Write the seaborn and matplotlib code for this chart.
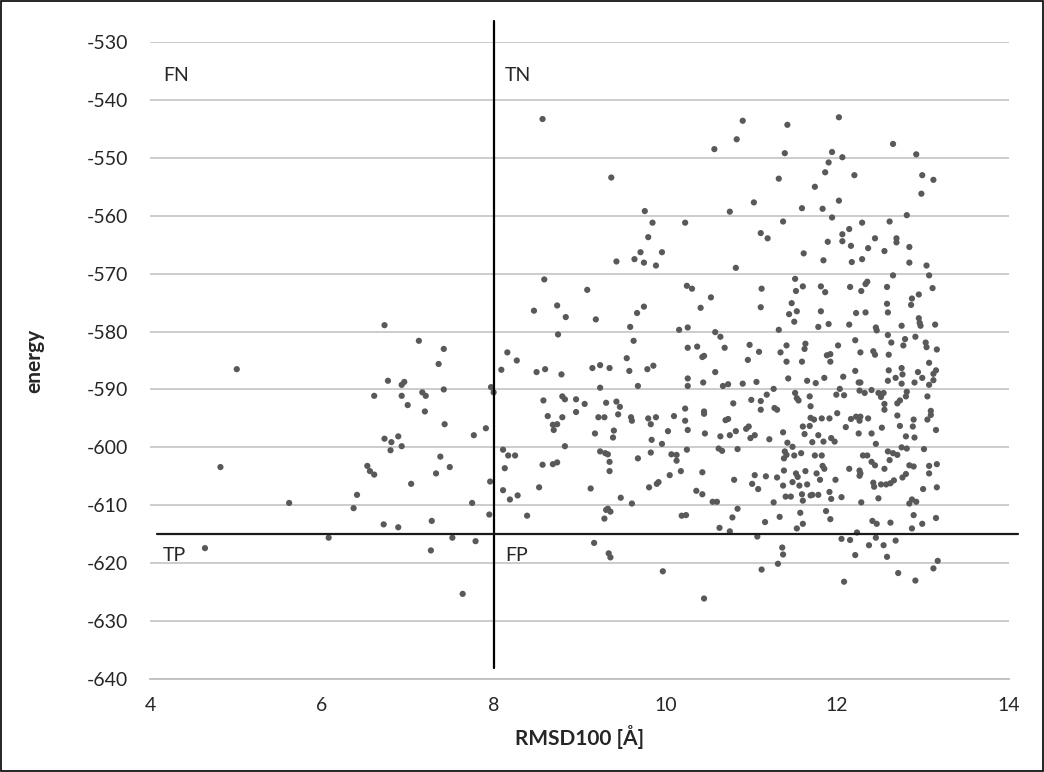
import matplotlib
matplotlib.use("Agg")
import matplotlib.pyplot as plt
import pandas as pd
import seaborn as sns
from matplotlib.patches import Rectangle

# RMSD100 / energy values, grouped by region
rmsd_left = [6.73, 7.13, 7.42, 5.01, 7.36, 6.77, 6.96, 6.93, 6.61, 6.93,
             7.17, 7.21, 7.42, 7.00, 7.20, 7.43, 7.91, 7.97, 8.00, 7.77,
             6.73, 6.81, 6.89, 6.93, 6.80, 4.82, 6.53, 6.56, 6.61, 7.38,
             7.49, 7.33, 7.04, 7.96, 5.62, 6.41, 6.37, 7.75, 7.95, 6.72,
             6.89, 7.28, 6.08, 7.52, 7.79, 4.64, 7.27, 7.64]
energy_left = [-578.9, -581.6, -583.0, -586.5, -585.6, -588.5, -588.7, -589.2, -591.1, -591.1,
               -590.5, -591.1, -590.0, -592.7, -593.8, -596.0, -596.7, -589.6, -590.5, -597.9,
               -598.5, -599.1, -598.1, -599.8, -600.5, -603.4, -603.2, -604.1, -604.7, -601.6,
               -603.4, -604.5, -606.3, -605.9, -609.6, -608.2, -610.5, -609.6, -611.6, -613.3,
               -613.8, -612.7, -615.6, -615.6, -616.2, -617.4, -617.8, -625.3]

rmsd_top = [8.57, 10.90, 11.42, 12.02, 10.83, 12.65]
energy_top = [-543.3, -543.6, -544.3, -543.0, -546.8, -547.6]

rmsd_mid = [9.37, 9.76, 9.85, 10.23, 9.80, 9.71, 9.96, 9.43, 9.64, 9.75,
            9.89, 8.59, 10.25, 9.09, 8.47, 8.74, 8.84, 9.19, 9.75, 9.67,
            9.59, 8.75, 10.16, 10.26, 9.63, 8.16, 8.27, 8.09, 8.50, 8.60,
            8.79, 9.15, 9.24, 9.35, 9.55, 9.58, 9.79, 9.86, 10.26, 10.26,
            9.24, 9.68, 10.26, 8.58, 8.80, 8.83, 8.96, 9.06, 8.96, 9.31,
            9.43, 9.47, 9.45, 8.63, 8.80, 9.22, 9.29, 9.60, 9.61, 9.80,
            9.83, 9.89, 10.10, 10.23, 10.23, 10.26, 8.69, 8.74, 8.70, 9.18,
            9.40, 9.39, 10.03, 9.84, 9.96, 8.83, 8.11, 8.17, 8.25, 9.24,
            9.30, 9.33, 9.35, 9.83, 9.68, 10.07, 10.13, 10.13, 10.25, 8.13,
            8.57, 8.69, 8.74, 9.35, 10.18, 10.05, 9.92, 9.90, 9.81, 8.11,
            8.53, 9.13, 8.19, 8.28, 9.48, 9.61, 9.33, 8.39, 9.31, 9.36,
            9.29, 10.19, 10.24, 9.17, 9.34, 9.36, 9.97]
energy_mid = [-553.4, -559.2, -561.2, -561.2, -563.7, -566.3, -566.3, -567.9, -567.5, -568.1,
              -568.6, -571.0, -572.1, -572.8, -576.4, -575.5, -577.5, -577.9, -575.7, -576.8,
              -579.2, -580.5, -579.7, -579.3, -581.6, -583.6, -585.0, -586.6, -587.0, -586.5,
              -587.4, -586.3, -585.8, -586.3, -584.6, -586.8, -586.5, -585.9, -582.8, -588.1,
              -589.7, -589.4, -589.4, -591.9, -591.2, -591.7, -591.7, -592.5, -593.9, -592.3,
              -592.1, -593.0, -594.3, -594.6, -594.8, -594.8, -594.8, -594.8, -595.4, -595.0,
              -596.0, -594.8, -594.6, -593.3, -595.4, -597.0, -596.1, -596.0, -597.0, -597.6,
              -597.1, -598.3, -597.2, -598.7, -599.4, -599.8, -600.4, -601.4, -601.4, -600.7,
              -601.0, -601.2, -602.5, -600.9, -601.9, -601.2, -601.3, -602.3, -600.4, -603.6,
              -603.0, -602.9, -602.6, -604.1, -604.1, -604.8, -606.0, -606.3, -606.9, -607.4,
              -606.9, -607.1, -609.0, -608.3, -608.7, -609.7, -610.6, -611.8, -610.8, -611.1,
              -612.3, -611.8, -611.7, -616.5, -618.3, -619.0, -621.4]

rmsd_right_a = [10.57, 11.39, 11.32, 11.74, 11.03, 10.75, 11.59, 11.37, 11.11, 11.19,
                11.61, 10.82, 11.51, 10.31, 10.53, 10.41, 11.12, 11.11, 11.52, 11.60,
                11.47, 11.53, 11.44,
                10.58, 10.64, 11.32, 10.37, 10.69, 10.98, 11.41, 11.63, 11.62, 10.43,
                10.45, 11.09, 11.34, 10.96, 11.41, 11.59, 10.58, 10.44, 10.67, 10.73,
                10.90, 11.06, 11.43, 11.65, 11.26, 11.18, 11.51, 11.53, 11.55, 11.68,
                11.00, 11.11, 11.11, 10.79, 10.45, 10.45, 11.27, 11.30, 10.46, 10.70,
                10.73, 10.64, 10.75, 10.82, 10.94, 10.97, 10.99, 11.04, 11.21, 11.37,
                11.42, 11.60, 11.68, 11.69, 11.62, 11.71, 11.48, 10.62, 10.66, 10.84,
                11.39, 11.41, 11.38, 11.50, 11.58, 10.43, 11.04, 11.17, 11.30, 11.38,
                11.52, 11.54, 11.63, 10.80, 11.01, 11.08, 11.37, 11.48, 11.56, 11.65,
                10.36, 10.43, 11.40, 11.46, 11.59, 11.69, 10.55, 10.60, 11.26, 11.50,
                11.60, 10.84, 10.78, 10.63, 10.75, 11.16, 11.33, 11.57, 11.60, 11.53,
                11.07, 11.36, 11.37, 11.31, 11.12, 10.45]
energy_right_a = [-548.5, -549.2, -553.6, -555.0, -557.7, -559.3, -558.7, -561.0, -563.0, -563.9,
                  -566.5, -569.0, -570.9, -572.6, -574.1, -575.9, -572.6, -575.8, -573.0, -572.2,
                  -575.1, -576.5, -577.0,
                  -580.1, -580.9, -579.7, -582.6, -582.8, -582.3, -582.4, -582.1, -583.0, -584.4,
                  -584.2, -583.5, -583.6, -584.9, -585.2, -585.2, -587.0, -588.8, -589.4, -589.1,
                  -589.0, -588.7, -588.1, -588.5, -589.9, -590.9, -590.6, -591.5, -591.9, -591.2,
                  -591.8, -592.0, -593.5, -592.4, -593.8, -594.2, -593.2, -593.5, -597.6, -595.3,
                  -595.1, -598.1, -597.9, -597.2, -596.8, -596.4, -598.4, -597.9, -598.6, -597.4,
                  -599.2, -596.4, -596.3, -594.9, -597.7, -599.1, -599.9, -600.2, -600.6, -600.3,
                  -600.7, -601.3, -601.9, -601.4, -601.0, -604.3, -604.8, -605.0, -605.2, -604.0,
                  -604.5, -605.1, -604.1, -605.6, -606.3, -607.2, -606.6, -606.0, -606.6, -606.4,
                  -607.5, -608.1, -608.5, -608.5, -608.1, -608.3, -609.4, -609.4, -609.5, -578.3,
                  -609.2, -610.6, -612.1, -613.9, -614.5, -612.9, -612.0, -611.3, -613.2, -614.0,
                  -615.4, -617.3, -618.5, -620.1, -621.1, -626.1]

rmsd_right_b = [11.94, 12.06, 11.90, 12.92, 11.86, 12.20, 12.99, 13.12, 12.98, 12.02,
                11.83, 11.94, 12.29, 12.61, 12.81, 12.14, 12.06, 12.06, 11.89, 12.16,
                12.44, 12.36, 12.55, 12.69, 12.69, 12.84, 11.84, 12.17, 12.29, 12.84,
                13.04, 12.65, 13.07, 11.81, 11.86, 12.15, 12.33, 12.35, 12.28, 12.58,
                13.11, 12.95, 12.87, 12.86, 12.58, 12.59, 11.81, 12.22, 12.33, 12.95,
                11.78, 11.90, 12.14, 12.45, 12.46, 12.75, 12.96, 12.97, 13.14, 12.59,
                12.63, 12.21, 12.01, 12.79, 12.77, 12.91, 13.03, 13.04, 13.16, 12.27,
                12.42, 12.44, 12.60, 11.88, 11.92, 11.92, 13.07, 12.75, 12.60, 12.21,
                12.94, 13.15, 13.12, 12.76, 12.68, 12.59, 12.07, 11.85, 11.75, 12.25,
                12.27, 12.75, 12.90, 12.99, 13.12, 13.07, 12.03, 11.99, 12.08, 12.26,
                12.32, 12.40, 12.48, 12.51, 12.54, 12.81, 12.80, 12.73, 12.70, 13.05,
                12.55, 12.55, 11.69, 13.09, 13.09, 12.00, 12.70, 11.73, 11.82, 11.91,
                12.16, 12.22, 12.26, 12.36, 12.27, 12.89, 13.05, 12.88, 12.73, 12.52,
                12.10, 12.25, 12.40, 13.15, 12.80, 12.90, 11.78, 11.84, 11.93, 11.97,
                12.45, 12.75, 12.81, 13.01, 12.59, 12.70, 12.65, 12.30, 12.35, 11.74,
                11.82, 12.40, 12.44, 12.61, 12.55, 12.84, 12.89, 13.07, 13.16, 11.83,
                11.85, 12.14, 12.26, 12.27, 12.26, 11.76, 11.80, 11.98, 12.80, 12.76,
                13.07, 12.42, 12.51, 12.57, 12.62, 12.66, 12.43, 13.00, 13.16, 11.71,
                11.78, 11.91, 11.93, 12.05, 12.48, 12.87, 12.92, 12.28, 12.84, 11.87,
                11.92, 12.41, 12.46, 12.62, 12.89, 12.99, 13.15, 12.87, 12.23, 12.05,
                12.15, 12.45, 12.37, 12.54, 12.68, 12.21, 12.58, 13.17, 13.12, 12.71,
                12.91, 12.08]
energy_right_b = [-549.0, -549.9, -550.8, -549.4, -552.5, -553.0, -553.0, -553.8, -556.2, -557.4,
                  -558.8, -560.3, -561.2, -561.0, -559.9, -562.3, -563.2, -564.4, -564.5, -565.2,
                  -563.9, -565.6, -566.1, -563.9, -564.6, -565.4, -567.7, -568.0, -567.5, -568.1,
                  -568.6, -570.3, -570.3, -572.2, -573.2, -572.3, -571.8, -571.4, -573.0, -572.3,
                  -572.5, -573.6, -574.3, -575.4, -575.2, -576.7, -576.5, -576.8, -576.7, -577.7,
                  -579.2, -578.7, -578.8, -579.3, -579.8, -579.0, -578.5, -579.0, -578.8, -580.6,
                  -581.9, -581.5, -582.4, -581.3, -582.4, -580.9, -581.9, -582.7, -583.1, -583.6,
                  -583.4, -584.0, -584.0, -584.1, -583.9, -585.2, -585.4, -586.3, -586.7, -586.8,
                  -587.0, -586.7, -587.3, -587.4, -588.0, -588.5, -587.8, -588.0, -588.9, -588.8,
                  -588.8, -589.0, -588.8, -588.0, -588.4, -589.2, -589.9, -590.9, -591.0, -590.2,
                  -590.6, -590.1, -590.6, -591.3, -590.6, -590.4, -591.2, -591.9, -592.4, -591.2,
                  -592.5, -593.5, -592.9, -593.7, -594.4, -594.1, -594.5, -595.2, -595.0, -595.0,
                  -595.1, -594.7, -595.4, -595.0, -594.7, -595.2, -595.2, -596.4, -596.3, -596.6,
                  -596.5, -597.6, -597.6, -597.0, -598.1, -598.3, -597.9, -599.0, -598.4, -599.0,
                  -599.4, -600.0, -600.2, -600.3, -600.7, -601.3, -601.0, -601.4, -601.4, -601.4,
                  -601.4, -602.5, -603.1, -602.2, -603.7, -603.1, -603.3, -603.2, -602.9, -603.2,
                  -603.7, -603.7, -604.0, -604.5, -604.9, -604.5, -605.6, -605.6, -604.6, -605.2,
                  -604.5, -606.1, -606.4, -606.4, -606.2, -605.7, -606.8, -607.2, -606.9, -608.2,
                  -608.2, -607.7, -608.9, -608.6, -608.8, -609.0, -609.4, -609.5, -609.7, -611.0,
                  -612.4, -612.7, -613.2, -613.0, -611.7, -613.2, -612.2, -614.0, -614.7, -615.8,
                  -616.0, -615.6, -616.9, -616.9, -616.1, -618.6, -618.9, -619.6, -620.9, -621.7,
                  -623.0, -623.2]

rmsd = rmsd_left + rmsd_top + rmsd_mid + rmsd_right_a + rmsd_right_b
energy = energy_left + energy_top + energy_mid + energy_right_a + energy_right_b
assert len(rmsd) == len(energy)

df = pd.DataFrame({"RMSD100": rmsd, "energy": energy})

sns.set_style("white")
plt.rcParams["font.family"] = ["Lato", "DejaVu Sans"]
plt.rcParams["axes.unicode_minus"] = False

fig = plt.figure(figsize=(10.44, 7.72), dpi=100)
ax = fig.add_axes([150 / 1044, 93 / 772, 859 / 1044, 637 / 772])

sns.scatterplot(data=df, x="RMSD100", y="energy", ax=ax, color="#595959",
                s=20, edgecolor="none", linewidth=0, zorder=3)

ax.set_xlim(4, 14)
ax.set_ylim(-640, -530)
ax.set_xticks(range(4, 15, 2))
ax.set_yticks(range(-640, -529, 10))
ax.grid(axis="y", color="#c8c8c8", linewidth=1.3)
ax.grid(axis="x", visible=False)
ax.set_axisbelow(True)
for side in ["top", "right", "left"]:
    ax.spines[side].set_visible(False)
ax.spines["bottom"].set_color("#bfbfbf")
ax.spines["bottom"].set_linewidth(1.3)
ax.tick_params(axis="x", length=6, width=1.3, color="#bfbfbf", labelsize=14,
               labelcolor="#262626", pad=7)
ax.tick_params(axis="y", length=0, labelsize=14, labelcolor="#262626", pad=16)

ax.set_xlabel("RMSD100 [Å]", fontsize=15, fontweight="bold", color="#262626", labelpad=8)
ax.set_ylabel("energy", fontsize=15, fontweight="bold", color="#262626", labelpad=30)

# threshold lines
ax.plot([8, 8], [-526.3, -638.1], color="black", linewidth=1.6, clip_on=False, zorder=4)
ax.plot([4.08, 14.1], [-615, -615], color="#1a1a1a", linewidth=1.6, clip_on=False, zorder=4)

# quadrant labels
for lab, xx, yy in [("FN", 4.15, -535.7), ("TN", 8.13, -535.7),
                    ("TP", 4.15, -618.6), ("FP", 8.13, -618.6)]:
    ax.text(xx, yy, lab, fontsize=14, color="#262626", ha="left", va="center")

fig.patches.append(Rectangle((0.001, 0.001), 0.998, 0.998, transform=fig.transFigure,
                             fill=False, edgecolor="black", linewidth=1.2))

fig.savefig("out.png", dpi=100)
